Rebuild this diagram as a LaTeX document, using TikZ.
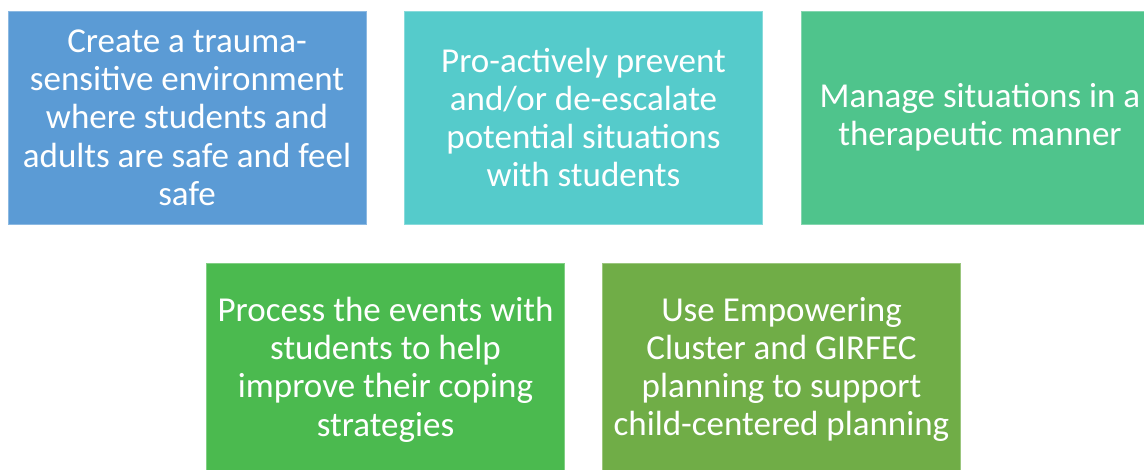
\documentclass[tikz,border=0pt]{standalone}
\usepackage{fontspec}
\setmainfont{Carlito}
\definecolor{cblue}{HTML}{5B9BD5}
\definecolor{cteal}{HTML}{55CBCB}
\definecolor{cmint}{HTML}{4FC48C}
\definecolor{cgreen}{HTML}{4BBA4F}
\definecolor{colive}{HTML}{70AD47}
\begin{document}
\begin{tikzpicture}[x=1pt,y=-1pt,
  card/.style={rectangle, minimum width=358pt, minimum height=213pt, inner sep=0pt,
    align=center, text=white, line width=1pt,
    font=\fontsize{35}{38.3}\selectfont},
]
\useasboundingbox (0,0) rectangle (1144,469);
\clip (0,0) rectangle (1144,469);
\node[card, fill=cblue, draw=cblue!70!white] (b1) at (187,117.5)
  {Create a trauma-\\sensitive environment\\where students and\\adults are safe and feel\\safe};
\node[card, fill=cteal, draw=cteal!70!white] (b2) at (583.5,117.5)
  {Pro-actively prevent\\and/or de-escalate\\potential situations\\with students};
\node[card, fill=cmint, draw=cmint!70!white] (b3) at (980,117.5)
  {Manage situations in a\\therapeutic manner};
\node[card, fill=cgreen, draw=cgreen!70!white] (b4) at (385.5,369.5)
  {Process the events with\\students to help\\improve their coping\\strategies};
\node[card, fill=colive, draw=colive!70!white] (b5) at (781.5,369.5)
  {Use Empowering\\Cluster and GIRFEC\\planning to support\\child-centered planning};
\end{tikzpicture}
\end{document}
